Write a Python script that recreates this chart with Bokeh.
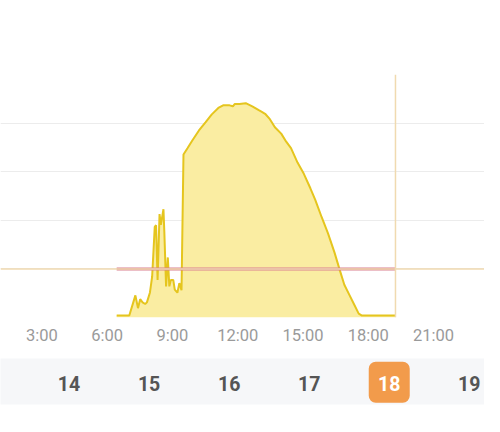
from bokeh.plotting import figure
from bokeh.layouts import column
from bokeh.models import Range1d, FixedTicker, Span, ColumnDataSource
from bokeh.core.properties import value
from bokeh.embed import file_html
from bokeh.resources import INLINE

# ---- data ----
hours = [6.44, 7.02, 7.30, 7.42, 7.52, 7.63, 7.75, 7.83, 7.97, 8.07, 8.19, 8.25,
         8.32, 8.41, 8.47, 8.59, 8.63, 8.71, 8.79, 8.86, 8.93, 9.04, 9.11, 9.23,
         9.32, 9.42, 9.51, 9.70, 9.93, 10.22, 10.52, 10.81, 11.11, 11.33, 11.63,
         11.78, 11.86, 12.08, 12.37, 12.67, 12.97, 13.11, 13.26, 13.48, 13.71,
         14.00, 14.23, 14.45, 14.75, 15.04, 15.34, 15.56, 15.86, 16.15, 16.45,
         16.67, 16.90, 17.12, 17.34, 17.56, 17.71, 19.25]
power = [40, 40, 456, 192, 377, 311, 278, 311, 516, 839, 1865, 1899,
         774, 2129, 1905, 2228, 1766, 641, 1236, 641, 774, 774, 575, 510,
         708, 560, 3353, 3486, 3651, 3849, 4014, 4180, 4311, 4365, 4365,
         4345, 4391, 4391, 4410, 4345, 4266, 4232, 4192, 4081, 3914,
         3783, 3617, 3486, 3188, 2956, 2659, 2426, 2063, 1732, 1335,
         1006, 675, 476, 278, 79, 40, 40]
ref_hours = [6.44, 19.25]
ref_level = [1000, 1000]
cursor_hour = 19.25
cursor_level = 1000
grid_levels = [0, 1000, 2000, 3000, 4000, 5000]
tick_hours = [3, 6, 9, 12, 15, 18, 21]
tick_labels = ["3:00", "6:00", "9:00", "12:00", "15:00", "18:00", "21:00"]
days = [14, 15, 16, 17, 18, 19]
selected_day = 18

FONT = "Roboto"

# ---- main chart ----
p = figure(width=484, height=352, output_backend="svg", toolbar_location=None,
           x_range=Range1d(1.103, 23.34), y_range=Range1d(0, 5000),
           min_border_left=0, min_border_right=0, min_border_top=74,
           min_border_bottom=35)
p.outline_line_color = None
p.yaxis.visible = False
p.xgrid.visible = False
p.ygrid.ticker = FixedTicker(ticks=grid_levels)
p.ygrid.grid_line_color = "#ececec"
p.ygrid.grid_line_width = 1

ax = p.xaxis[0]
ax.ticker = FixedTicker(ticks=tick_hours)
ax.major_label_overrides = {h: l for h, l in zip(tick_hours, tick_labels)}
ax.axis_line_color = None
ax.major_tick_line_color = None
ax.minor_tick_line_color = None
ax.major_tick_out = 0
ax.major_label_standoff = 8
ax.major_label_text_font = FONT
ax.major_label_text_font_size = "16.5px"
ax.major_label_text_color = "#9a9a9a"

src = ColumnDataSource(dict(h=hours, w=power))
p.varea(x="h", y1=0, y2="w", source=src, fill_color="#faeda2", fill_alpha=1)
p.line(x="h", y="w", source=src, line_color="#e5c51e", line_width=2)

p.add_layout(Span(location=cursor_level, dimension="width",
                  line_color="#f0dab0", line_width=1.5))
p.add_layout(Span(location=cursor_hour, dimension="height",
                  line_color="#f0dab0", line_width=1.5))
p.line(x=ref_hours, y=ref_level, line_color="#d9808f", line_width=3)

# ---- day strip ----
d = figure(width=484, height=64, output_backend="svg", toolbar_location=None,
           x_range=Range1d(13.144, 19.190), y_range=Range1d(0, 1),
           min_border_left=0, min_border_right=0, min_border_top=6,
           min_border_bottom=12)
d.axis.visible = False
d.grid.visible = False
d.outline_line_color = None
d.background_fill_color = "#f6f7f9"
d.border_fill_color = "white"

d.rect(x=[selected_day], y=[0.483], width=41, height=41,
       width_units="screen", height_units="screen",
       fill_color="#f29b4b", line_color=None, border_radius=7)
colors = ["white" if x == selected_day else "#555555" for x in days]
d.text(x=days, y=[0.464] * len(days), text=[str(x) for x in days],
       text_color=colors, text_font=value(FONT), text_font_size="19.5px",
       text_font_style="bold", text_align="center", text_baseline="middle")

layout = column(p, d, spacing=0)
open("out.html", "w").write(file_html(layout, INLINE))
